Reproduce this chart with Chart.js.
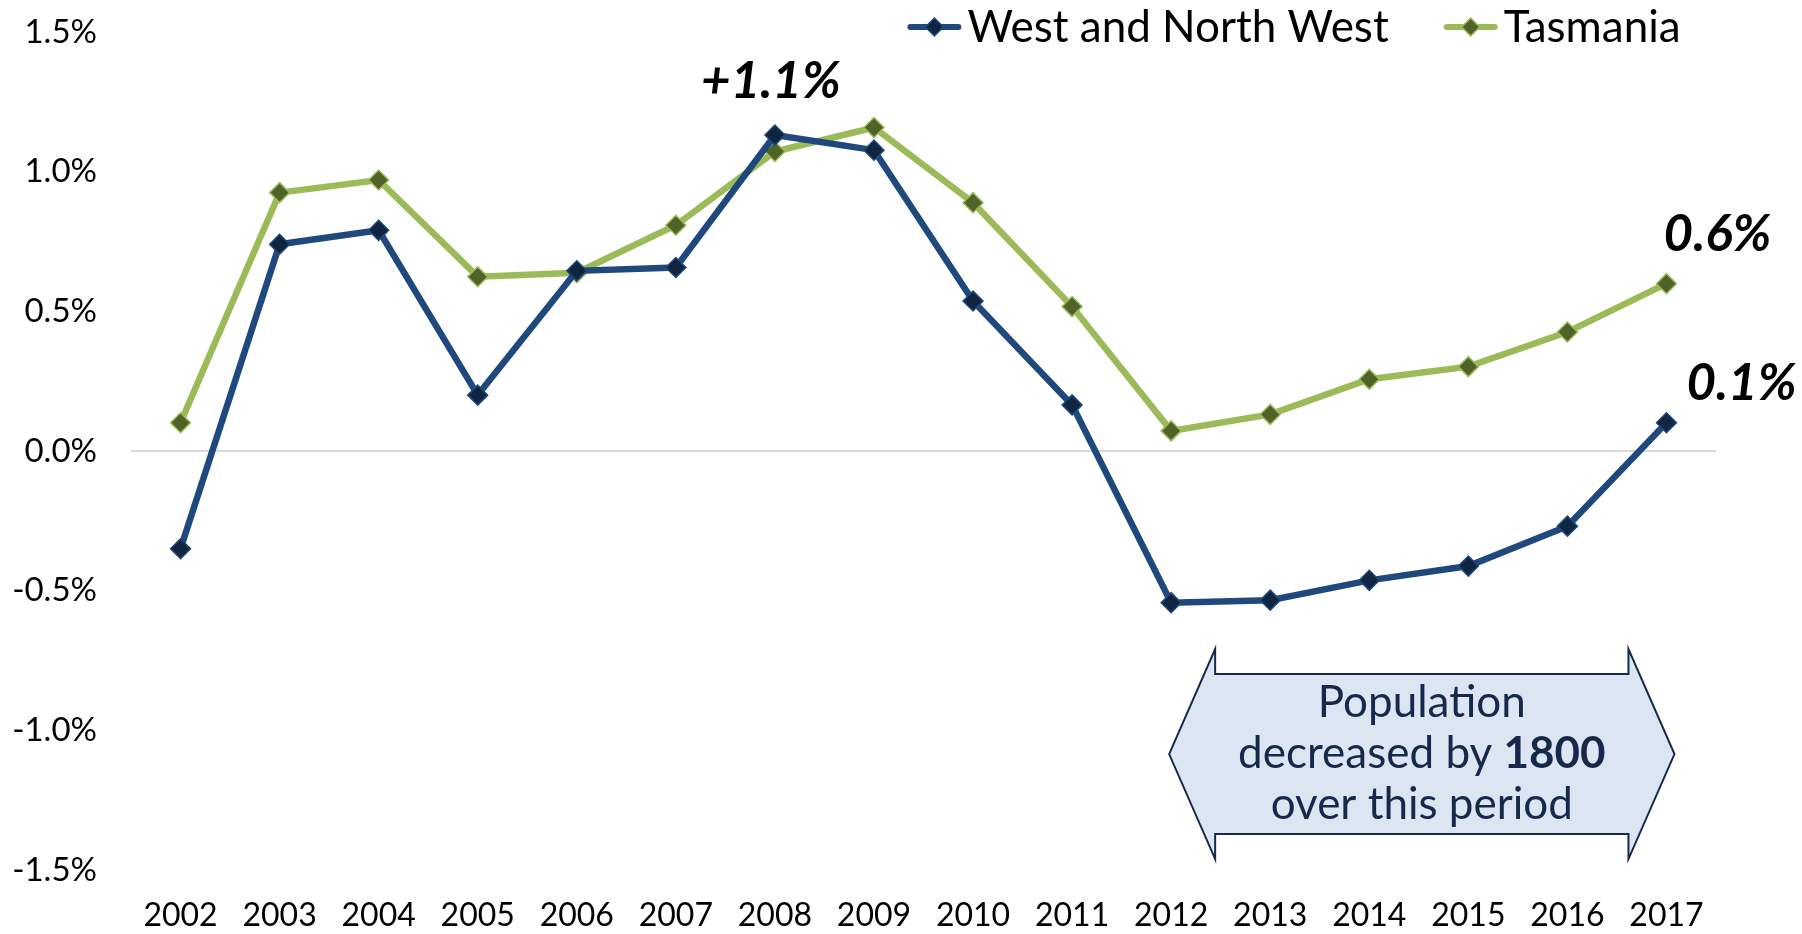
<!DOCTYPE html>
<html>
<head>
<meta charset="utf-8">
<script src="https://cdn.jsdelivr.net/npm/chart.js@4.4.0/dist/chart.umd.min.js"></script>
<style>
html, body { margin: 0; padding: 0; background: #fff; }
</style>
</head>
<body>
<canvas id="chart" width="1802" height="934"></canvas>
<script>
var years = ['2002', '2003', '2004', '2005', '2006', '2007', '2008', '2009',
	'2010', '2011', '2012', '2013', '2014', '2015', '2016', '2017'];
var westNorthWest = [-0.35, 0.74, 0.79, 0.20, 0.645, 0.657, 1.131, 1.077,
	0.537, 0.165, -0.543, -0.534, -0.463, -0.412, -0.269, 0.101];
var tasmania = [0.101, 0.925, 0.97, 0.624, 0.638, 0.808, 1.072, 1.158,
	0.889, 0.517, 0.072, 0.131, 0.257, 0.302, 0.426, 0.599];
var yTicks = [-1.5, -1.0, -0.5, 0.0, 0.5, 1.0, 1.5];
var seriesNames = ['West and North West', 'Tasmania'];
var pointNotes = ['+1.1%', '0.6%', '0.1%'];
var arrowLines = ['Population', 'decreased by ', '1800', 'over this period'];

var FONT = 'Lato, "Open Sans", sans-serif';

// legend along the top, drawn over the plot like the original
var topLegend = {
	id: 'topLegend',
	afterDraw: function(chart) {
		var ctx = chart.ctx;
		var sets = chart.data.datasets;
		ctx.save();
		ctx.font = '44px ' + FONT;
		ctx.textBaseline = 'middle';
		var lineW = 54, gapText = 6, gapItem = 55;
		var total = 0;
		sets.forEach(function(ds, i) {
			total += lineW + gapText + ctx.measureText(ds.label).width;
			if (i < sets.length - 1) total += gapItem;
		});
		var x = 1294 - total / 2;
		var y = 27;
		sets.forEach(function(ds) {
			ctx.strokeStyle = ds.borderColor;
			ctx.lineWidth = 6;
			ctx.lineCap = 'round';
			ctx.beginPath();
			ctx.moveTo(x + 3, y);
			ctx.lineTo(x + lineW - 3, y);
			ctx.stroke();
			var cx = x + lineW / 2;
			ctx.fillStyle = ds.pointBackgroundColor;
			ctx.strokeStyle = ds.pointBorderColor;
			ctx.lineWidth = 1.5;
			ctx.beginPath();
			ctx.moveTo(cx - 9, y);
			ctx.lineTo(cx, y - 9);
			ctx.lineTo(cx + 9, y);
			ctx.lineTo(cx, y + 9);
			ctx.closePath();
			ctx.fill();
			ctx.stroke();
			x += lineW + gapText;
			ctx.fillStyle = '#000';
			ctx.fillText(ds.label, x, y + 1);
			x += ctx.measureText(ds.label).width + gapItem;
		});
		ctx.restore();
	}
};

// bold italic notes next to points + the double arrow callout
var notes = {
	id: 'notes',
	afterDraw: function(chart) {
		var ctx = chart.ctx;
		var xs = chart.scales.x, ys = chart.scales.y;
		var blue = chart.getDatasetMeta(0).data;
		var green = chart.getDatasetMeta(1).data;
		ctx.save();
		ctx.font = 'italic bold 51px ' + FONT;
		ctx.fillStyle = '#000';
		ctx.textAlign = 'center';
		ctx.textBaseline = 'middle';
		ctx.fillText(pointNotes[0], blue[6].x - 4, blue[6].y - 54);
		ctx.fillText(pointNotes[1], green[15].x + 51, green[15].y - 49);
		ctx.fillText(pointNotes[2], blue[15].x + 75, blue[15].y - 39);

		var L = xs.getPixelForValue(10) - 2;
		var R = xs.getPixelForValue(15) + 8;
		var cy = ys.getPixelForValue(-1.085);
		var head = 46, hh = 105, sh = 80;
		ctx.beginPath();
		ctx.moveTo(L, cy);
		ctx.lineTo(L + head, cy - hh);
		ctx.lineTo(L + head, cy - sh);
		ctx.lineTo(R - head, cy - sh);
		ctx.lineTo(R - head, cy - hh);
		ctx.lineTo(R, cy);
		ctx.lineTo(R - head, cy + hh);
		ctx.lineTo(R - head, cy + sh);
		ctx.lineTo(L + head, cy + sh);
		ctx.lineTo(L + head, cy + hh);
		ctx.closePath();
		ctx.fillStyle = '#DCE6F2';
		ctx.fill();
		ctx.strokeStyle = '#17294A';
		ctx.lineWidth = 2;
		ctx.stroke();

		var mx = (L + R) / 2;
		ctx.fillStyle = '#17294A';
		ctx.font = '44px ' + FONT;
		ctx.fillText(arrowLines[0], mx, cy - 51);
		ctx.fillText(arrowLines[3], mx, cy + 51);
		var w1 = ctx.measureText(arrowLines[1]).width;
		ctx.font = 'bold 44px ' + FONT;
		var w2 = ctx.measureText(arrowLines[2]).width;
		var sx = mx - (w1 + w2) / 2;
		ctx.textAlign = 'left';
		ctx.font = '44px ' + FONT;
		ctx.fillText(arrowLines[1], sx, cy);
		ctx.font = 'bold 44px ' + FONT;
		ctx.fillText(arrowLines[2], sx + w1, cy);
		ctx.restore();
	}
};

var config = {
	type: 'line',
	data: {
		labels: years,
		datasets: [{
			label: seriesNames[0],
			data: westNorthWest,
			borderColor: '#1F497D',
			borderWidth: 6.5,
			pointStyle: 'rectRot',
			pointRadius: 10,
			pointBorderWidth: 1.5,
			pointBackgroundColor: '#10253F',
			pointBorderColor: '#1F497D',
			tension: 0
		}, {
			label: seriesNames[1],
			data: tasmania,
			borderColor: '#9BBB59',
			borderWidth: 6.5,
			pointStyle: 'rectRot',
			pointRadius: 10,
			pointBorderWidth: 1.5,
			pointBackgroundColor: '#4F6228',
			pointBorderColor: '#9BBB59',
			tension: 0
		}]
	},
	options: {
		responsive: false,
		animation: false,
		layout: { padding: { top: 32, right: 86, bottom: 0, left: 0 } },
		plugins: {
			legend: { display: false },
			tooltip: { enabled: false }
		},
		scales: {
			x: {
				offset: true,
				grid: { display: false, drawTicks: false },
				border: { display: false },
				ticks: {
					color: '#000',
					font: { family: FONT, size: 32 },
					padding: 26,
					maxRotation: 0
				},
				afterFit: function(scale) { scale.height = 64; }
			},
			y: {
				min: -1.5,
				max: 1.5,
				afterBuildTicks: function(scale) {
					scale.ticks = yTicks.map(function(v) { return { value: v }; });
				},
				grid: {
					drawTicks: false,
					lineWidth: 2,
					color: function(c) { return c.tick && c.tick.value === 0 ? '#D9D9D9' : 'rgba(0,0,0,0)'; }
				},
				border: { display: false },
				ticks: {
					color: '#000',
					font: { family: FONT, size: 33 },
					padding: 34,
					callback: function(v) { return v.toFixed(1) + '%'; }
				},
				afterFit: function(scale) {
					scale.width = 131;
					scale.paddingTop = 0;
					scale.paddingBottom = 0;
				}
			}
		}
	},
	plugins: [topLegend, notes]
};

window.onload = function() {
	var ctx = document.getElementById('chart').getContext('2d');
	window.myLine = new Chart(ctx, config);
};
</script>
</body>
</html>
